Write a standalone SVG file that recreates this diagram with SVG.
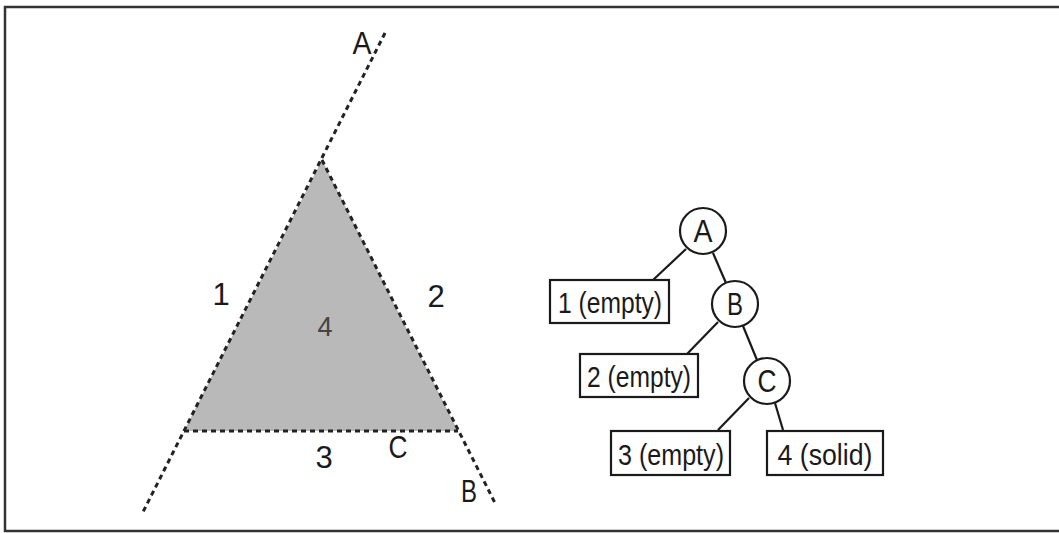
<svg xmlns="http://www.w3.org/2000/svg" width="1059" height="533" viewBox="0 0 1059 533">
<style>
.lbl{font-family:"Liberation Sans",Arial,sans-serif;font-size:31px;fill:#1a1a1a;text-anchor:middle}
.btx{font-family:"Liberation Sans",Arial,sans-serif;font-size:29px;fill:#1a1a1a;text-anchor:middle}
.dash{stroke:#222;stroke-width:3;stroke-dasharray:5 4;fill:none}
.node circle,.node rect{fill:#fff;stroke:#1a1a1a;stroke-width:2.2}
.edge{stroke:#1a1a1a;stroke-width:2.2}
</style>
<rect x="0" y="0" width="1059" height="533" fill="#fff"/>
<path d="M1070,7 H5 V531 H1070" fill="none" stroke="#333" stroke-width="2.5"/>
<g id="plane">
<polygon points="322,160 184,431 458,431" fill="#b9b9b9"/>
<line class="dash" x1="385" y1="33" x2="143" y2="512"/>
<line class="dash" x1="322" y1="160" x2="495" y2="503"/>
<line class="dash" x1="184" y1="431" x2="458" y2="431"/>
<text class="lbl" x="362" y="54" textLength="19" lengthAdjust="spacingAndGlyphs">A</text>
<text class="lbl" x="469" y="502" textLength="16" lengthAdjust="spacingAndGlyphs">B</text>
<text class="lbl" x="398" y="458" textLength="19" lengthAdjust="spacingAndGlyphs">C</text>
<text class="lbl" x="221" y="305">1</text>
<text class="lbl" x="436" y="307">2</text>
<text class="lbl" x="324" y="468">3</text>
<text class="lbl" x="325" y="336" style="fill:#444;font-size:27px">4</text>
</g>
<g id="connectors">
<line class="edge" x1="686" y1="249" x2="653" y2="280"/>
<line class="edge" x1="713" y1="253" x2="726" y2="283"/>
<line class="edge" x1="718" y1="322" x2="687" y2="354"/>
<line class="edge" x1="743" y1="326" x2="757" y2="360"/>
<line class="edge" x1="749" y1="398" x2="718" y2="430"/>
<line class="edge" x1="775" y1="403" x2="783" y2="430"/>
</g>
<g id="nodeA" class="node"><circle cx="703" cy="231" r="23"/><text class="lbl" x="703" y="242" textLength="19" lengthAdjust="spacingAndGlyphs">A</text></g>
<g id="nodeB" class="node"><circle cx="735" cy="304" r="23"/><text class="lbl" x="735" y="315" textLength="16" lengthAdjust="spacingAndGlyphs">B</text></g>
<g id="nodeC" class="node"><circle cx="767" cy="381" r="23"/><text class="lbl" x="767" y="392" textLength="19" lengthAdjust="spacingAndGlyphs">C</text></g>
<g id="leaf1" class="node"><rect x="550" y="280" width="119" height="43"/><text class="btx" x="610" y="313" textLength="104" lengthAdjust="spacingAndGlyphs">1 (empty)</text></g>
<g id="leaf2" class="node"><rect x="580" y="354" width="118" height="43"/><text class="btx" x="639" y="387" textLength="104" lengthAdjust="spacingAndGlyphs">2 (empty)</text></g>
<g id="leaf3" class="node"><rect x="611" y="431" width="119" height="44"/><text class="btx" x="671" y="465" textLength="106" lengthAdjust="spacingAndGlyphs">3 (empty)</text></g>
<g id="leaf4" class="node"><rect x="767" y="431" width="116" height="44"/><text class="btx" x="825" y="465" textLength="95" lengthAdjust="spacingAndGlyphs">4 (solid)</text></g>
</svg>
